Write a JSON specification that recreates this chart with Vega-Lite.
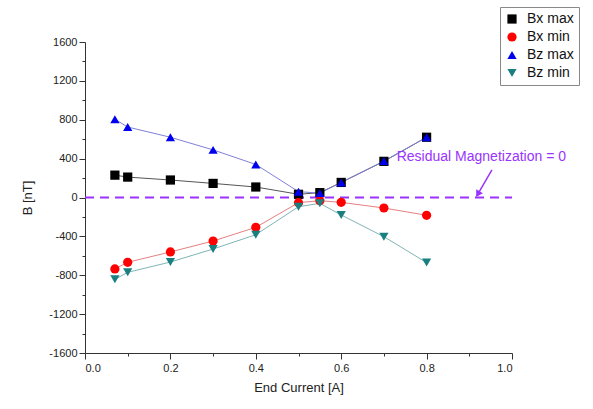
{
  "$schema": "https://vega.github.io/schema/vega-lite/v6.json",
  "width": 427,
  "height": 311,
  "autosize": {"type": "none"},
  "padding": {"left": 85, "top": 42, "right": 81, "bottom": 56},
  "background": "white",
  "config": {
    "view": {"stroke": null},
    "font": "Liberation Sans",
    "axis": {"domainColor": "#333", "tickColor": "#333", "labelColor": "#222", "titleColor": "#222", "labelFont": "Liberation Sans", "titleFont": "Liberation Sans", "titleFontWeight": "normal", "grid": false, "labelOverlap": false}
  },
  "datasets": {
    "pts": [
      {"I": 0.07, "B": 230, "series": "Bx max"},
      {"I": 0.1, "B": 210, "series": "Bx max"},
      {"I": 0.2, "B": 180, "series": "Bx max"},
      {"I": 0.3, "B": 145, "series": "Bx max"},
      {"I": 0.4, "B": 108, "series": "Bx max"},
      {"I": 0.5, "B": 33, "series": "Bx max"},
      {"I": 0.55, "B": 50, "series": "Bx max"},
      {"I": 0.6, "B": 155, "series": "Bx max"},
      {"I": 0.7, "B": 372, "series": "Bx max"},
      {"I": 0.8, "B": 620, "series": "Bx max"},
      {"I": 0.07, "B": -735, "series": "Bx min"},
      {"I": 0.1, "B": -667, "series": "Bx min"},
      {"I": 0.2, "B": -560, "series": "Bx min"},
      {"I": 0.3, "B": -448, "series": "Bx min"},
      {"I": 0.4, "B": -307, "series": "Bx min"},
      {"I": 0.5, "B": -53, "series": "Bx min"},
      {"I": 0.55, "B": -33, "series": "Bx min"},
      {"I": 0.6, "B": -50, "series": "Bx min"},
      {"I": 0.7, "B": -108, "series": "Bx min"},
      {"I": 0.8, "B": -183, "series": "Bx min"},
      {"I": 0.07, "B": 805, "series": "Bz max"},
      {"I": 0.1, "B": 725, "series": "Bz max"},
      {"I": 0.2, "B": 620, "series": "Bz max"},
      {"I": 0.3, "B": 490, "series": "Bz max"},
      {"I": 0.4, "B": 340, "series": "Bz max"},
      {"I": 0.5, "B": 60, "series": "Bz max"},
      {"I": 0.55, "B": 45, "series": "Bz max"},
      {"I": 0.6, "B": 155, "series": "Bz max"},
      {"I": 0.7, "B": 375, "series": "Bz max"},
      {"I": 0.8, "B": 620, "series": "Bz max"},
      {"I": 0.07, "B": -842, "series": "Bz min"},
      {"I": 0.1, "B": -770, "series": "Bz min"},
      {"I": 0.2, "B": -664, "series": "Bz min"},
      {"I": 0.3, "B": -530, "series": "Bz min"},
      {"I": 0.4, "B": -383, "series": "Bz min"},
      {"I": 0.5, "B": -95, "series": "Bz min"},
      {"I": 0.55, "B": -60, "series": "Bz min"},
      {"I": 0.6, "B": -180, "series": "Bz min"},
      {"I": 0.7, "B": -403, "series": "Bz min"},
      {"I": 0.8, "B": -670, "series": "Bz min"}
    ]
  },
  "encoding": {
    "x": {"field": "I", "type": "quantitative", "scale": {"domain": [0, 1], "nice": false},
      "axis": {"title": "End Current [A]", "values": [0, 0.1, 0.2, 0.3, 0.4, 0.5, 0.6, 0.7, 0.8, 0.9, 1.0], "labelExpr": "(round(datum.value*10) % 2 == 0) ? format(datum.value, '.1f') : ''", "tickSize": {"condition": {"test": "round(datum.value*10) % 2 == 0", "value": 6}, "value": 3}, "labelFontSize": 11, "titleFontSize": 13, "titlePadding": 8, "labelPadding": 3, "labelOverlap": false}},
    "y": {"field": "B", "type": "quantitative", "scale": {"domain": [-1600, 1600], "nice": false},
      "axis": {"title": "B [nT]", "values": [-1600, -1400, -1200, -1000, -800, -600, -400, -200, 0, 200, 400, 600, 800, 1000, 1200, 1400, 1600], "labelExpr": "(datum.value % 400 == 0) ? datum.value : ''", "tickSize": {"condition": {"test": "datum.value % 400 == 0", "value": 6}, "value": 3}, "labelFontSize": 11, "titleFontSize": 13, "titlePadding": 14, "labelOverlap": false}}
  },
  "layer": [
    {
      "data": {"values": [{"I": 0, "I1": 1.0, "B": 0}]},
      "mark": {"type": "rule", "color": "#9933ff", "strokeWidth": 2, "strokeDash": [9, 6]},
      "encoding": {
        "x2": {"field": "I1"}
      }
    },
    {
      "data": {"name": "pts"},
      "mark": {"type": "line", "strokeWidth": 1},
      "encoding": {
        "detail": {"field": "series", "type": "nominal"},
        "stroke": {"condition": [
          {"test": "datum.series == 'Bx max'", "value": "#555555"},
          {"test": "datum.series == 'Bx min'", "value": "#e58080"},
          {"test": "datum.series == 'Bz max'", "value": "#8080d8"}
        ], "value": "#7fb5b5"}
      }
    },
    {
      "data": {"name": "pts"},
      "mark": {"type": "point", "filled": true, "size": 85, "opacity": 1},
      "encoding": {
        "color": {"field": "series", "type": "nominal", "scale": {"domain": ["Bx max", "Bx min", "Bz max", "Bz min"], "range": ["#000000", "#ff0000", "#0000ee", "#1a7f7f"]},
          "legend": {"title": null, "orient": "none", "legendX": 415, "legendY": -35, "labelFontSize": 14, "labelColor": "#111", "symbolSize": 85, "rowPadding": 4, "padding": 5, "strokeColor": "#888", "fillColor": "white", "labelOffset": 8}},
        "shape": {"field": "series", "type": "nominal", "scale": {"domain": ["Bx max", "Bx min", "Bz max", "Bz min"], "range": ["square", "circle", "triangle-up", "triangle-down"]}}
      }
    },
    {
      "data": {"values": [{"I": 0.73, "B": 417, "label": "Residual Magnetization = 0"}]},
      "mark": {"type": "text", "align": "left", "baseline": "middle", "fontSize": 14, "color": "#9933ff", "font": "Liberation Sans"},
      "encoding": {
        "text": {"field": "label"}
      }
    },
    {
      "data": {"values": [{"I": 0.953, "B": 283, "I1": 0.92, "B1": 35}]},
      "mark": {"type": "rule", "color": "#9933ff", "strokeWidth": 1.5},
      "encoding": {
        "x2": {"field": "I1"},
        "y2": {"field": "B1"}
      }
    },
    {
      "data": {"values": [{"I": 0.92, "B": 35}]},
      "mark": {"type": "point", "shape": "triangle-down", "filled": true, "size": 60, "angle": 31, "color": "#9933ff", "opacity": 1},
      "encoding": {}
    }
  ]
}
